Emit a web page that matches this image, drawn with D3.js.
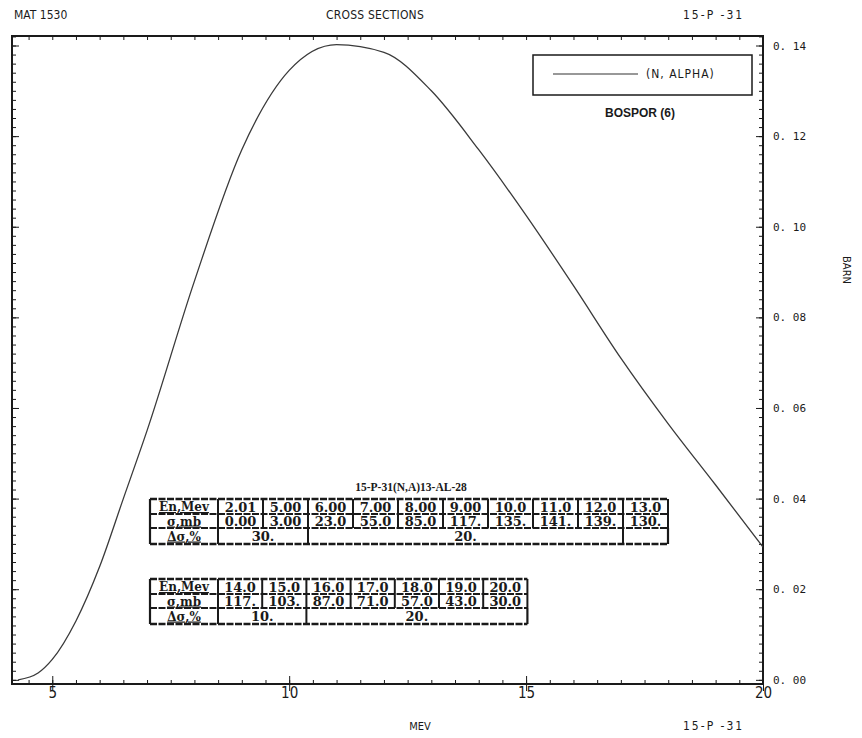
<!DOCTYPE html>
<html><head><meta charset="utf-8">
<script src="https://cdn.jsdelivr.net/npm/d3@7"></script>
<style>
body{margin:0;background:#fff;}
svg{display:block;}
</style></head>
<body>
<svg id="c" width="862" height="738"></svg>
<script>
// ---- data: tabulated experimental points (table) ----
const energyMeV = [2.01,5.00,6.00,7.00,8.00,9.00,10.0,11.0,12.0,13.0,14.0,15.0,16.0,17.0,18.0,19.0,20.0];
const sigmaMb   = [0.00,3.00,23.0,55.0,85.0,117.0,135.0,141.0,139.0,130.0,117.0,103.0,87.0,71.0,57.0,43.0,30.0];
const table1Count = 10;
const errors1 = [{label:"30.", span:2},{label:"20.", span:7},{label:"", span:1}];
const errors2 = [{label:"10.", span:2},{label:"20.", span:5}];
// ---- data: evaluated curve (MeV, barn) ----
const curveMeV  = [4.28, 4.70, 5.00, 5.50, 6.00, 6.50, 7.00, 8.00, 9.00, 10.0, 11.0, 12.0, 13.0, 14.0, 15.0, 16.0, 17.0, 18.0, 19.0, 20.0];
const curveBarn = [0.000,0.0015,0.0045,0.013,0.025,0.040,0.055,0.088,0.117,0.1345,0.1402,0.1385,0.1300,0.1170,0.1025,0.0870,0.0710,0.0565,0.0430,0.0293];
// ---- axes ----
const xTicks = [5,10,15,20];
const yTicks = [0.00,0.02,0.04,0.06,0.08,0.10,0.12,0.14];
const xDomain = [4.15, 20];
const yDomain = [-0.0007, 0.1421];
const seriesLabel = "(N, ALPHA)";
const refLabel = "BOSPOR (6)";
const tableTitle = "15-P-31(N,A)13-AL-28";
const rowHeads = ["En,Mev","\u03c3,mb","\u0394\u03c3,%"];

// ---- layout ----
const svg = d3.select("#c");
const L=12, R=763, T=36, B=684;
const x = d3.scaleLinear().domain(xDomain).range([L,R]);
const y = d3.scaleLinear().domain(yDomain).range([B-1,T]);
const ink="#1a1a1a";
const hdrFont="'Liberation Sans Narrow','DejaVu Sans Condensed',sans-serif";

// header / footer texts
svg.append("text").attr("x",14).attr("y",19).attr("font-family",hdrFont).attr("font-size",12).attr("fill",ink).text("MAT 1530");
svg.append("text").attr("x",375).attr("y",19).attr("text-anchor","middle").attr("font-family",hdrFont).attr("font-size",12).attr("letter-spacing",0.2).attr("fill",ink).text("CROSS SECTIONS");
svg.append("text").attr("x",683).attr("y",19).attr("font-family",hdrFont).attr("font-size",12).attr("letter-spacing",2).attr("fill",ink).text("15-P -31");
svg.append("text").attr("x",420).attr("y",730).attr("text-anchor","middle").attr("font-family",hdrFont).attr("font-size",11).attr("fill",ink).text("MEV");
svg.append("text").attr("x",683).attr("y",730).attr("font-family",hdrFont).attr("font-size",12).attr("letter-spacing",2).attr("fill",ink).text("15-P -31");
svg.append("text").attr("transform","translate(843,270) rotate(90)").attr("text-anchor","middle").attr("font-family",hdrFont).attr("font-size",11).attr("fill",ink).text("BARN");

// axes with inward ticks
const xMinor = d3.range(4.5, 20.01, 0.5);
const yMinor = d3.range(0, 0.1421, 0.002);
function axis(gen, tr, vals, size){
  const g = svg.append("g").attr("transform",tr).call(gen.tickValues(vals).tickSize(size).tickFormat(""));
  g.select(".domain").remove();
  g.selectAll("line").attr("stroke",ink).attr("stroke-width",1);
  return g;
}
axis(d3.axisBottom(x), `translate(0,${B})`, xMinor, -4);
axis(d3.axisBottom(x), `translate(0,${B})`, xTicks, 7).selectAll("line").attr("y1",-8);
axis(d3.axisTop(x), `translate(0,${T})`, xMinor, -4);
axis(d3.axisLeft(y), `translate(${L},0)`, yMinor, -4);
axis(d3.axisLeft(y), `translate(${L},0)`, yTicks, -7);
axis(d3.axisRight(y), `translate(${R},0)`, yMinor, -4);
axis(d3.axisRight(y), `translate(${R},0)`, yTicks, -7);

// x tick labels
const gx = svg.append("g").attr("transform",`translate(0,${B})`).call(d3.axisBottom(x).tickValues(xTicks).tickSize(0).tickPadding(3).tickFormat(d3.format("d")));
gx.select(".domain").remove();
gx.selectAll("text").attr("font-family",hdrFont).attr("font-size",15).attr("fill",ink).attr("dy","0.72em");
// y tick labels
const gy = svg.append("g").attr("transform",`translate(${R},0)`).call(d3.axisRight(y).tickValues(yTicks).tickSize(0).tickPadding(10).tickFormat(d=>d3.format(".2f")(d).replace(".",". ")));
gy.select(".domain").remove();
gy.selectAll("text").attr("font-family","'DejaVu Sans Mono',monospace").attr("font-size",11).attr("fill",ink);

// frame
svg.append("rect").attr("x",L).attr("y",T).attr("width",R-L).attr("height",B-T).attr("fill","none").attr("stroke",ink).attr("stroke-width",2);

// evaluated curve
svg.append("clipPath").attr("id","clip").append("rect").attr("x",L).attr("y",T).attr("width",R-L).attr("height",B-T);
const pts = curveMeV.map((e,i)=>[e, curveBarn[i]]);
const line = d3.line().x(d=>x(d[0])).y(d=>y(d[1])).curve(d3.curveMonotoneX);
svg.append("path").attr("clip-path","url(#clip)").attr("d",line(pts)).attr("fill","none").attr("stroke","#3a3a3a").attr("stroke-width",1.3);

// legend
svg.append("rect").attr("x",533).attr("y",55).attr("width",219).attr("height",40).attr("fill","none").attr("stroke",ink).attr("stroke-width",1.5);
svg.append("line").attr("x1",553).attr("x2",638).attr("y1",74).attr("y2",74).attr("stroke","#333").attr("stroke-width",1.2);
svg.append("text").attr("x",646).attr("y",78).attr("font-family",hdrFont).attr("font-size",12).attr("letter-spacing",1).attr("fill",ink).text(seriesLabel);
svg.append("text").attr("x",640).attr("y",117).attr("text-anchor","middle").attr("font-family","'Liberation Sans',Arial,sans-serif").attr("font-weight","bold").attr("font-size",12).attr("fill",ink).text(refLabel);

// tables
const fmt = v => v<10 ? v.toFixed(2) : v<100 ? v.toFixed(1) : v.toFixed(0)+".";
const tabFont = "'DejaVu Serif','Liberation Serif',serif";
svg.append("text").attr("x",411).attr("y",491).attr("text-anchor","middle").attr("font-family","'Liberation Serif',serif").attr("font-weight","bold").attr("font-size",11.5).attr("fill",ink).text(tableTitle);

function drawTable(x0, top, idx, errs){
  const headW=68, cw=(idx.length===10)?45:44.2, rh=[15,14,16];
  const g = svg.append("g");
  const W = headW + cw*idx.length;
  const rows = [idx.map(i=>fmt(energyMeV[i])), idx.map(i=>fmt(sigmaMb[i]))];
  let yy = top;
  const ys=[top];
  rh.forEach(h=>{yy+=h; ys.push(yy);});
  ys.forEach((yv,k)=>{
    g.append("line").attr("x1",x0).attr("x2",x0+W).attr("y1",yv).attr("y2",yv)
     .attr("stroke",ink).attr("stroke-width",k===0||k===3?2.4:2).attr("stroke-dasharray","7,1.5");
  });
  rowHeads.forEach((t,k)=>{
    g.append("text").attr("x",x0+headW/2).attr("y",ys[k]+rh[k]/2+4.5).attr("text-anchor","middle")
     .attr("font-family",tabFont).attr("font-weight","bold").attr("font-size",12).attr("text-decoration","underline").attr("fill",ink).text(t);
  });
  rows.forEach((r,k)=>{
    r.forEach((t,j)=>{
      g.append("text").attr("x",x0+headW+cw*j+cw/2).attr("y",ys[k]+rh[k]/2+5).attr("text-anchor","middle")
       .attr("font-family",tabFont).attr("font-weight","bold").attr("font-size",13).attr("fill",ink).text(t);
    });
  });
  for(let j=0;j<=idx.length;j++){
    const xv = x0+headW+cw*j;
    g.append("line").attr("x1",xv).attr("x2",xv).attr("y1",ys[0]).attr("y2",ys[2]).attr("stroke",ink).attr("stroke-width",2);
  }
  g.append("line").attr("x1",x0).attr("x2",x0).attr("y1",ys[0]).attr("y2",ys[3]).attr("stroke",ink).attr("stroke-width",2.2);
  let c=0;
  errs.forEach(e=>{
    const xa = x0+headW+cw*c, xb = x0+headW+cw*(c+e.span);
    g.append("line").attr("x1",xa).attr("x2",xa).attr("y1",ys[2]).attr("y2",ys[3]).attr("stroke",ink).attr("stroke-width",2);
    g.append("text").attr("x",(xa+xb)/2).attr("y",ys[2]+rh[2]/2+5).attr("text-anchor","middle")
     .attr("font-family",tabFont).attr("font-weight","bold").attr("font-size",13).attr("fill",ink).text(e.label);
    c+=e.span;
  });
  const xe = x0+headW+cw*c;
  g.append("line").attr("x1",xe).attr("x2",xe).attr("y1",ys[2]).attr("y2",ys[3]).attr("stroke",ink).attr("stroke-width",2.2);
}
drawTable(150, 499, d3.range(0,table1Count), errors1);
drawTable(150, 579, d3.range(table1Count, energyMeV.length), errors2);
</script>
</body></html>
